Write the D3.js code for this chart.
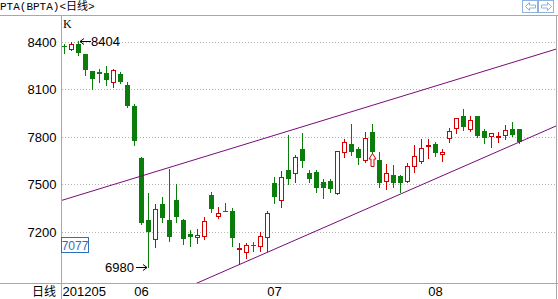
<!DOCTYPE html>
<html>
<head>
<meta charset="utf-8">
<script src="https://cdn.jsdelivr.net/npm/d3@7"></script>
<style>
  html, body { margin: 0; padding: 0; background: #fff; }
  svg { display: block; }
</style>
</head>
<body>
<div id="kline"></div>
<script>
// daily candles, May - Aug 2012 (index = trading day)
const opens  = [8372, 8354, 8387, 8322, 8215, 8212, 8205, 8150, 8200, 8128, 7996,
  7670, 7276, 7153, 7377, 7276, 7402, 7276, 7186, 7166, 7175, 7434, 7301, 7333, 7335,
  7094, 7072, 7116, 7114, 7166, 7510, 7402, 7590, 7575, 7722, 7570, 7580, 7518, 7522,
  7446, 7703, 7756, 7724, 7655, 7830, 7655, 7525, 7560, 7554, 7524, 7617, 7650, 7746,
  7756, 7691, 7792, 7855, 7933, 7848, 7933, 7838, 7806, 7800, 7813, 7849, 7849]
const highs  = [8385, 8400, 8404, 8325, 8218, 8230, 8250, 8232, 8210, 8145, 8008,
  7672, 7444, 7378, 7423, 7596, 7503, 7285, 7210, 7218, 7295, 7450, 7356, 7381, 7350,
  7130, 7130, 7140, 7202, 7335, 7550, 7582, 7812, 7686, 7823, 7592, 7592, 7533, 7533,
  7709, 7787, 7882, 7739, 7830, 7882, 7707, 7628, 7623, 7560, 7634, 7749, 7785, 7785,
  7770, 7722, 7855, 7918, 7977, 7933, 7935, 7849, 7827, 7833, 7876, 7893, 7850]
const lows   = [8330, 8352, 8320, 8190, 8100, 8150, 8128, 8115, 8140, 7990, 7750,
  7250, 6980, 7103, 7265, 7145, 7265, 7122, 7112, 7133, 7153, 7328, 7287, 7330, 7112,
  7002, 7034, 7082, 7082, 7082, 7382, 7356, 7506, 7518, 7611, 7518, 7455, 7417, 7455,
  7440, 7672, 7686, 7628, 7645, 7700, 7486, 7472, 7482, 7455, 7518, 7581, 7638, 7665,
  7680, 7650, 7770, 7823, 7844, 7840, 7800, 7760, 7739, 7770, 7785, 7806, 7765]
const closes = [8370, 8387, 8332, 8225, 8168, 8198, 8160, 8223, 8145, 7998, 7772,
  7255, 7198, 7343, 7288, 7167, 7297, 7158, 7170, 7181, 7270, 7343, 7318, 7331, 7160,
  7100, 7118, 7112, 7175, 7318, 7420, 7546, 7535, 7672, 7650, 7533, 7480, 7476, 7472,
  7709, 7766, 7708, 7665, 7792, 7708, 7508, 7571, 7512, 7508, 7617, 7680, 7729, 7752,
  7697, 7707, 7838, 7918, 7860, 7907, 7807, 7792, 7823, 7803, 7844, 7813, 7770]

// x axis: index of first day of each month
const tickIndex  = [0, 11, 30, 53]
const tickLabels = ['201205', '06', '07', '08']
const yTicks = [7200, 7500, 7800, 8100, 8400]

// trend channel, [index, price]
const upperLine = [[0, 7404], [65, 8283]]
const lowerLine = [[0, 6510], [65, 7767]]

const lastPrice = 7077
const signalDay = 44

const W = 558, H = 299
const pl = 61, pr = 556, pt = 15, pb = 283
const UP = '#d40000', DOWN = '#0a7d0a', GRID = '#b4b4b4', AXIS = '#a8a8a8'
const FONT = '"Liberation Sans", Arial, sans-serif'

const svg = d3.select('#kline').append('svg')
  .attr('width', W)
  .attr('height', H)
  .style('background', '#fff')

const x = d3.scaleLinear().domain([0, opens.length - 1]).range([64, 519])
const y = d3.scaleLinear().domain([6878, 8570]).range([pb, pt])

// title
svg.append('text')
  .attr('x', 0).attr('y', 10)
  .style('font', '11px "Liberation Mono", "Noto Sans CJK SC", monospace')
  .text('PTA(BPTA)<日线>')

// frame lines
const frame = svg.append('g').attr('stroke', AXIS).attr('stroke-width', 1).attr('shape-rendering', 'crispEdges')
frame.append('line').attr('x1', 0).attr('x2', W).attr('y1', pt + 0.5).attr('y2', pt + 0.5)
frame.append('line').attr('x1', 0).attr('x2', W).attr('y1', pb + 0.5).attr('y2', pb + 0.5)
frame.append('line').attr('x1', pl + 0.5).attr('x2', pl + 0.5).attr('y1', pt).attr('y2', H)
frame.append('line').attr('x1', pr + 0.5).attr('x2', pr + 0.5).attr('y1', pt).attr('y2', H)

// y axis + dotted grid
const yAxis = svg.append('g')
  .attr('transform', `translate(${pl + 0.5},0)`)
  .call(d3.axisLeft(y).tickValues(yTicks).tickFormat(d3.format('d')).tickSize(-(pr - pl - 1)).tickPadding(5))
yAxis.select('.domain').remove()
yAxis.selectAll('.tick line')
  .attr('stroke', GRID)
  .attr('stroke-dasharray', '1,2')
  .attr('shape-rendering', 'crispEdges')
yAxis.selectAll('.tick text')
  .attr('fill', '#000')
  .style('font', `13px ${FONT}`)

// x axis labels
const xAxis = svg.append('g')
  .attr('transform', `translate(0,${pb})`)
  .call(d3.axisBottom(x).tickValues(tickIndex).tickFormat((d, i) => tickLabels[i]).tickSize(0).tickPadding(4))
xAxis.select('.domain').remove()
xAxis.selectAll('.tick text')
  .attr('fill', '#000')
  .style('font', `13px ${FONT}`)
xAxis.selectAll('.tick text').filter((d, i) => i === 0)
  .attr('text-anchor', 'start')
  .attr('x', pl + 1 - x(tickIndex[0]))

svg.append('text')
  .attr('x', pl - 5).attr('y', 296)
  .attr('text-anchor', 'end')
  .style('font', '12px "Noto Sans CJK SC", sans-serif')
  .text('日线')

svg.append('text')
  .attr('x', pl + 2).attr('y', 28)
  .style('font', `12px "Liberation Serif", serif`)
  .text('K')

// candles
const candles = svg.append('g').attr('shape-rendering', 'crispEdges')
opens.forEach((o, i) => {
  const c = closes[i]
  const cx = Math.round(x(i))
  const up = c > o
  const color = up ? UP : DOWN
  candles.append('line')
    .attr('x1', cx + 0.5).attr('x2', cx + 0.5)
    .attr('y1', Math.round(y(highs[i]))).attr('y2', Math.round(y(lows[i])) + 1)
    .attr('stroke', color)
  const yt = Math.round(y(Math.max(o, c)))
  const yb = Math.round(y(Math.min(o, c)))
  if (up) {
    candles.append('rect')
      .attr('x', cx - 1.5).attr('y', yt + 0.5)
      .attr('width', 4).attr('height', Math.max(1, yb - yt))
      .attr('fill', '#fff').attr('stroke', color)
  } else {
    candles.append('rect')
      .attr('x', cx - 2).attr('y', yt)
      .attr('width', 5).attr('height', Math.max(1, yb - yt))
      .attr('fill', color)
  }
})

// trend channel
svg.append('clipPath').attr('id', 'plot')
  .append('rect').attr('x', pl + 1).attr('y', pt + 1).attr('width', pr - pl - 1).attr('height', pb - pt - 1)
const i0 = x.invert(pl), i1 = x.invert(pr)
const extend = ([[a, pa], [b, pb2]]) => {
  const f = d3.scaleLinear().domain([a, b]).range([pa, pb2])
  return [[i0, f(i0)], [i1, f(i1)]]
}
const lineGen = d3.line().x(d => x(d[0])).y(d => y(d[1]))
svg.append('g').attr('clip-path', 'url(#plot)')
  .selectAll('path').data([upperLine, lowerLine]).join('path')
  .attr('d', d => lineGen(extend(d)))
  .attr('fill', 'none')
  .attr('stroke', '#7a0a7a')
  .attr('stroke-width', 1)

// max / min markers
const ann = svg.append('g').style('font', `13px ${FONT}`)
const hiIdx = d3.maxIndex(highs), loIdx = d3.minIndex(lows)
const hx = Math.round(x(hiIdx)) + 2, hy = Math.round(y(highs[hiIdx])) + 0.5
ann.append('path')
  .attr('d', `M${hx},${hy}H${hx + 11}M${hx},${hy}l4,-3M${hx},${hy}l4,3`)
  .attr('stroke', '#000').attr('fill', 'none')
ann.append('text').attr('x', hx + 11).attr('y', hy + 4.5).text(highs[hiIdx])
const lx = Math.round(x(loIdx)) - 1, ly = Math.round(y(lows[loIdx])) + 0.5
ann.append('path')
  .attr('d', `M${lx},${ly}H${lx - 11}M${lx},${ly}l-4,-3M${lx},${ly}l-4,3`)
  .attr('stroke', '#000').attr('fill', 'none')
ann.append('text').attr('x', lx - 13).attr('y', ly + 4.5).attr('text-anchor', 'end').text(lows[loIdx])

// buy signal arrow
const sx = Math.round(x(signalDay)) + 0.5, sy = Math.round(y(lows[signalDay])) + 0.5
svg.append('path')
  .attr('d', `M${sx},${sy}L${sx + 3.5},${sy + 5.5}H${sx + 1.5}V${sy + 13}H${sx - 1.5}V${sy + 5.5}H${sx - 3.5}Z`)
  .attr('fill', '#fff').attr('stroke', UP)

// last price box on the axis
const py = Math.round(y(lastPrice))
svg.append('rect')
  .attr('x', pl + 0.5).attr('y', py - 13.5)
  .attr('width', 27).attr('height', 15)
  .attr('fill', '#fff').attr('stroke', '#2f6fc0')
svg.append('text')
  .attr('x', pl + 14).attr('y', py - 1.5)
  .attr('text-anchor', 'middle').attr('fill', '#2f6fc0')
  .style('font', `12px ${FONT}`)
  .text(lastPrice)

// scroll buttons top right
const btn = svg.append('g').attr('stroke', '#8fb4dc').attr('fill', 'none')
btn.append('rect').attr('x', 522.5).attr('y', 0.5).attr('width', 15).attr('height', 12)
btn.append('rect').attr('x', 538.5).attr('y', 0.5).attr('width', 15).attr('height', 12)
btn.append('path').attr('d', 'M525.5,6.5l4,-4v2.5h6v3h-6v2.5z')
btn.append('path').attr('d', 'M551.5,6.5l-4,-4v2.5h-6v3h6v2.5z')
</script>
</body>
</html>
